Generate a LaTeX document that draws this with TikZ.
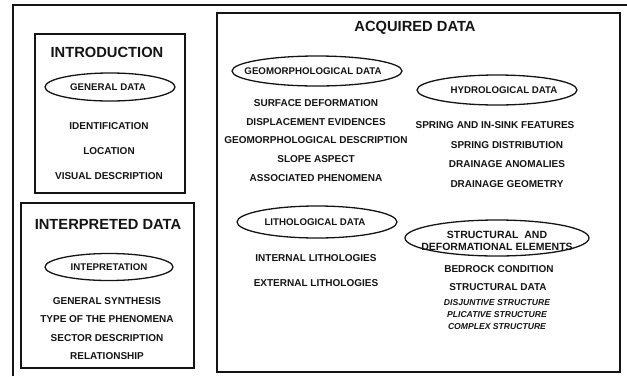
\documentclass[tikz,border=0pt]{standalone}
\usepackage{fontspec}
\setmainfont{Liberation Sans}
\definecolor{ink}{HTML}{141414}

\begin{document}
\begin{tikzpicture}[x=1pt, y=-1pt,
    head/.style={ink, font=\bfseries\fontsize{14.7}{16}\selectfont},
    item/.style={ink, font=\bfseries\fontsize{10}{12}\selectfont},
    sub/.style={ink, font=\bfseries\itshape\fontsize{8.6}{10}\selectfont},
    tag/.style={ink, font=\bfseries\fontsize{9.7}{12}\selectfont, align=center},
    oval/.style={draw=ink, line width=1.3pt},
    frame/.style={draw=ink, line width=1.5pt}]
  \useasboundingbox (0,0) rectangle (627,376);
  \draw[ink, line width=1.2pt] (13,376) -- (13,5) -- (627,5);
  % introduction
  \draw[frame] (35,34) rectangle (185,193);
  \node[head] (intro) at (107,52) {INTRODUCTION};
  \node[tag] (general) at (108,87) {GENERAL DATA};
  \draw[oval] (110,87) ellipse [x radius=65, y radius=14];
  \foreach \t/\y [count=\i] in {IDENTIFICATION/126, LOCATION/151, VISUAL DESCRIPTION/176}
    \node[item] (intro-\i) at (109,\y) {\t};
  % interpreted data
  \draw[frame] (21,203) rectangle (194,368);
  \node[head] (interp) at (108,224) {INTERPRETED DATA};
  \node[tag] (inteprt) at (109,267) {INTEPRETATION};
  \draw[oval] (109,267) ellipse [x radius=64, y radius=13.5];
  \foreach \t/\y [count=\i] in {GENERAL SYNTHESIS/301, TYPE OF THE PHENOMENA/319, SECTOR DESCRIPTION/338, RELATIONSHIP/356}
    \node[item] (interp-\i) at (107,\y) {\t};
  % acquired data
  \draw[frame] (217,13) rectangle (620,372);
  \node[head] (acq) at (415,28) {ACQUIRED DATA};
  \node[tag] (geo) at (313,71) {GEOMORPHOLOGICAL DATA};
  \draw[oval] (317,71) ellipse [x radius=85, y radius=15];
  \foreach \t/\y [count=\i] in {SURFACE DEFORMATION/103, DISPLACEMENT EVIDENCES/122,
      GEOMORPHOLOGICAL DESCRIPTION/140, SLOPE ASPECT/159, ASSOCIATED PHENOMENA/178}
    \node[item] (geo-\i) at (316,\y) {\t};
  \node[tag] (hydro) at (504,90) {HYDROLOGICAL DATA};
  \draw[oval] (497,90) ellipse [x radius=80, y radius=15];
  \node[item] (hydro-1) at (495,125) {SPRING AND IN-SINK FEATURES};
  \foreach \t/\y [count=\i from 2] in {SPRING DISTRIBUTION/145, DRAINAGE ANOMALIES/164, DRAINAGE GEOMETRY/184}
    \node[item] (hydro-\i) at (507,\y) {\t};
  \node[tag] (litho) at (315,222) {LITHOLOGICAL DATA};
  \draw[oval] (317,222) ellipse [x radius=80, y radius=16];
  \foreach \t/\y [count=\i] in {INTERNAL LITHOLOGIES/258, EXTERNAL LITHOLOGIES/283}
    \node[item] (litho-\i) at (316,\y) {\t};
  \node[tag, font=\bfseries\fontsize{10.5}{12}\selectfont] (struct) at (497,241) {STRUCTURAL\ \ AND\\DEFORMATIONAL ELEMENTS};
  \draw[oval] (497,238) ellipse [x radius=92, y radius=18];
  \node[item] (struct-1) at (499,269) {BEDROCK CONDITION};
  \node[item] (struct-2) at (498,287) {STRUCTURAL DATA};
  \foreach \t/\y [count=\i from 3] in {DISJUNTIVE STRUCTURE/303, PLICATIVE STRUCTURE/315, COMPLEX STRUCTURE/327}
    \node[sub] (struct-\i) at (497,\y) {\t};
\end{tikzpicture}
\end{document}
